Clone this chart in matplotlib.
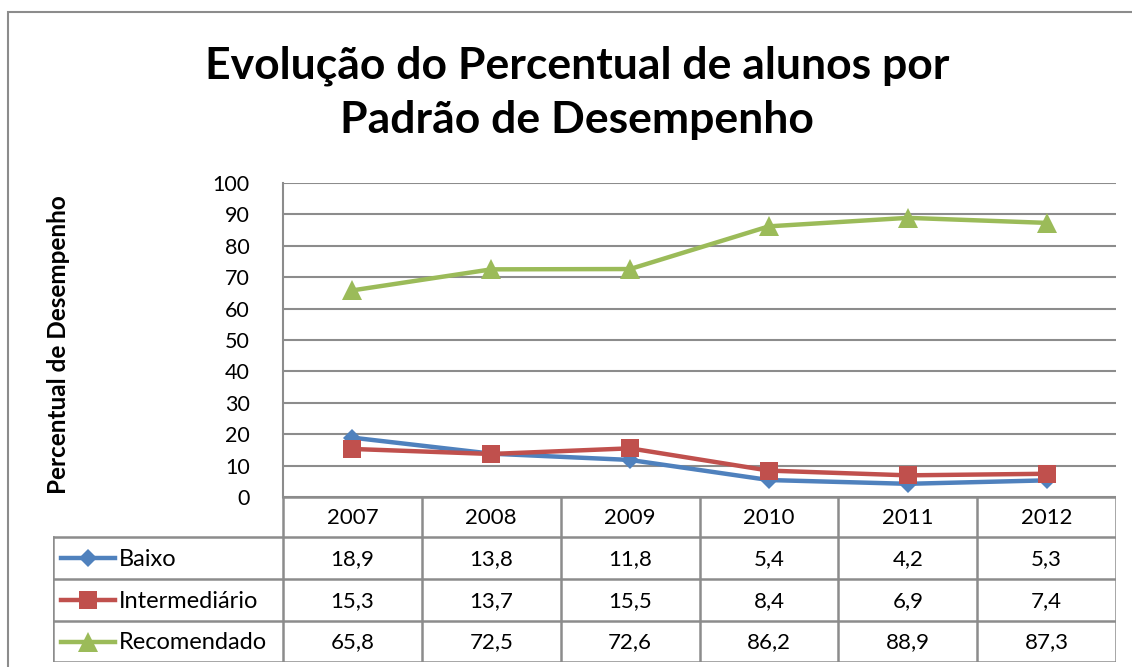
import matplotlib
matplotlib.use("Agg")
import matplotlib.pyplot as plt
from matplotlib.patches import Rectangle
from matplotlib.lines import Line2D

plt.rcParams['font.family'] = ['Lato', 'DejaVu Sans']

# Dados
anos = ["2007", "2008", "2009", "2010", "2011", "2012"]
series = ["Baixo", "Intermediário", "Recomendado"]
baixo = [18.9, 13.8, 11.8, 5.4, 4.2, 5.3]
intermediario = [15.3, 13.7, 15.5, 8.4, 6.9, 7.4]
recomendado = [65.8, 72.5, 72.6, 86.2, 88.9, 87.3]
valores = [baixo, intermediario, recomendado]

cores = ["#4F81BD", "#C0504D", "#9BBB59"]
marcadores = ["D", "s", "^"]
tamanhos = [9, 13, 14]
cinza = "#8C8C8C"

W, H = 1132, 667
fig = plt.figure(figsize=(W / 100, H / 100), dpi=100)

# borda do gráfico
fig.patches.append(Rectangle((8 / W, -0.1), 1.2, 1 - 12 / H + 0.1, transform=fig.transFigure,
                             fill=False, edgecolor=cinza, linewidth=1.5))

# área de plotagem
x0, x1 = 283, 1116
ytop, ybot = 183, 497
ax = fig.add_axes([x0 / W, 1 - ybot / H, (x1 - x0) / W, (ybot - ytop) / H])
xs = list(range(len(anos)))
for vals, cor, mk, ms in zip(valores, cores, marcadores, tamanhos):
    ax.plot(xs, vals, color=cor, linewidth=3.2, marker=mk, markersize=ms,
            markeredgewidth=0, clip_on=False, zorder=3)
ax.set_xlim(-0.5, len(anos) - 0.5)
ax.set_ylim(0, 100)
ax.set_yticks(range(0, 101, 10))
ax.set_xticks([])
ax.yaxis.grid(True, color=cinza, linewidth=1.5)
ax.set_axisbelow(True)
for s in ["top", "right", "bottom"]:
    ax.spines[s].set_visible(False)
ax.spines["left"].set_color(cinza)
ax.spines["left"].set_linewidth(1.5)
ax.tick_params(axis="y", length=0, pad=24, labelsize=15.5)

# rótulo do eixo y
fig.text(58 / W, 1 - 345 / H, "Percentual de Desempenho", rotation=90,
         ha="center", va="center", fontsize=17.5, fontweight="bold")

# título
fig.text(577 / W, 1 - 78 / H, "Evolução do Percentual de alunos por",
         ha="center", va="baseline", fontsize=32, fontweight="bold")
fig.text(577 / W, 1 - 133 / H, "Padrão de Desempenho",
         ha="center", va="baseline", fontsize=32, fontweight="bold")

# tabela de dados
leg_left = 53
ncol = len(anos)
colw = (x1 - x0) / ncol
tb_top, tb_bot = 497, 662
tax = fig.add_axes([leg_left / W, 1 - tb_bot / H, (x1 - leg_left) / W, (tb_bot - tb_top) / H])
tax.set_xlim(leg_left, x1)
tax.set_ylim(tb_bot, tb_top)
tax.axis("off")
linhas_y = [497, 537, 579, 621, 662]
lk = dict(color=cinza, linewidth=1.8, solid_capstyle="projecting")
# linhas horizontais
tax.plot([x0, x1], [linhas_y[0]] * 2, **lk)
for yy in linhas_y[1:]:
    tax.plot([leg_left, x1], [yy, yy], **lk)
# linhas verticais
tax.plot([leg_left, leg_left], [linhas_y[1], linhas_y[-1]], **lk)
for i in range(ncol + 1):
    xx = x0 + i * colw
    tax.plot([xx, xx], [linhas_y[0], linhas_y[-1]], **lk)
# cabeçalho
for i, ano in enumerate(anos):
    tax.text(x0 + (i + 0.5) * colw, (linhas_y[0] + linhas_y[1]) / 2 + 1, ano,
             ha="center", va="center", fontsize=16)
# linhas de valores
for r, (nome, vals, cor, mk, ms) in enumerate(zip(series, valores, cores, marcadores, tamanhos)):
    yc = (linhas_y[r + 1] + linhas_y[r + 2]) / 2
    tax.add_line(Line2D([61, 115], [yc, yc], color=cor, linewidth=3.2))
    tax.add_line(Line2D([88], [yc], color=cor, marker=mk, markersize=ms, markeredgewidth=0))
    tax.text(119, yc + 1, nome, ha="left", va="center", fontsize=17)
    for i, v in enumerate(vals):
        tax.text(x0 + (i + 0.5) * colw, yc + 1, f"{v:.1f}".replace(".", ","),
                 ha="center", va="center", fontsize=16)

fig.savefig("out.png", dpi=100, facecolor="white")
